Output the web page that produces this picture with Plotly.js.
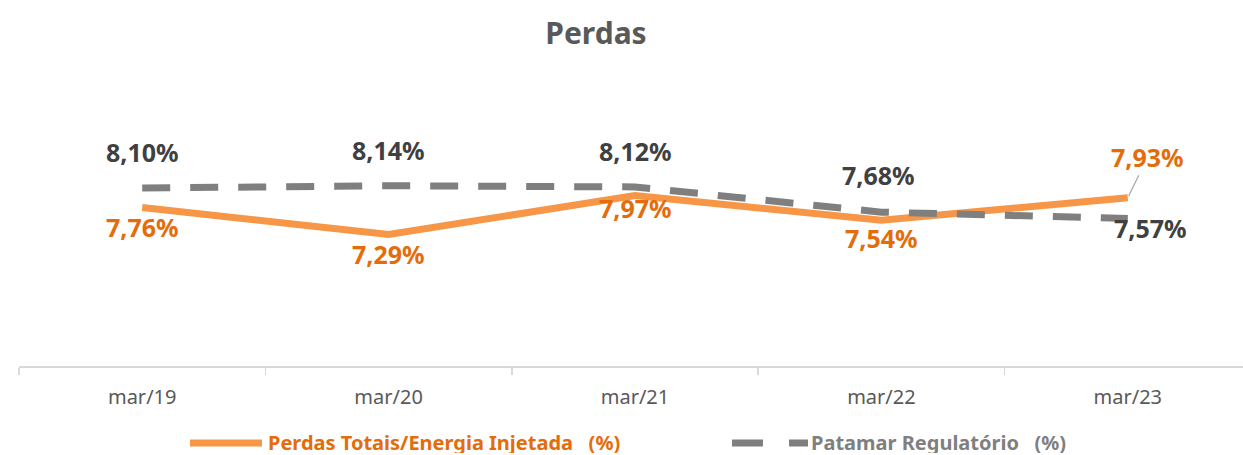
<!DOCTYPE html>
<html><head><meta charset="utf-8">
<script src="https://cdn.plot.ly/plotly-3.0.1.min.js"></script>
<style>html,body{margin:0;padding:0;overflow:hidden;background:#fff}#chart{width:1251px;height:455px}</style>
</head><body><div id="chart"></div>
<script>
const categories = ['mar/19','mar/20','mar/21','mar/22','mar/23'];
const perdasTotais = [7.76, 7.29, 7.97, 7.54, 7.93];
const patamarRegulatorio = [8.10, 8.14, 8.12, 7.68, 7.57];
const seriesNames = ['Perdas Totais/Energia Injetada&nbsp;&nbsp;&nbsp;(%)', 'Patamar Regulatório&nbsp;&nbsp;&nbsp;(%)'];

const fmt = v => v.toFixed(2).replace('.', ',') + '%';
const FONT = 'Noto Sans, Open Sans, sans-serif';
const ORANGE_LINE = '#F79646', ORANGE_TEXT = '#E46C0A', GRAY_LINE = '#7F7F7F', GRAY_TEXT = '#404040';

// presentation-only pixel offsets for labels
const orangeOffsets = [[0,-19],[0,-19],[0,-12],[0,-18],null];
const grayOffsets = [[0,36],[0,36],[0,36],[-3,37],[23,-10]];

// plot area geometry (px) used to place the custom legend in paper coords
const PL = 19, PW = 1232, PT = 79, PH = 287;
const px = v => (v - PL) / PW;
const py = v => (PT + PH - v) / PH;

const annotations = [];
perdasTotais.forEach((v,i) => {
  const base = {x: categories[i], y: v, xref:'x', yref:'y', text: '<b>'+fmt(v)+'</b>',
    font:{family:FONT, size:25, color:ORANGE_TEXT}};
  if (orangeOffsets[i]) {
    annotations.push(Object.assign(base, {showarrow:false, xshift:orangeOffsets[i][0], yshift:orangeOffsets[i][1]}));
  } else {
    annotations.push(Object.assign(base, {showarrow:true, arrowhead:0, arrowwidth:1.2, arrowcolor:'#A6A6A6', ax:20, ay:-41, standoff:2}));
  }
});
patamarRegulatorio.forEach((v,i) => {
  annotations.push({x: categories[i], y: v, xref:'x', yref:'y', text:'<b>'+fmt(v)+'</b>', showarrow:false,
    xshift:grayOffsets[i][0], yshift:grayOffsets[i][1], font:{family:FONT, size:25, color:GRAY_TEXT}});
});
// custom legend labels
annotations.push({xref:'paper', yref:'paper', x:px(267), y:py(442), xanchor:'left', yanchor:'middle', showarrow:false,
  borderpad:0, height:22, valign:'middle',
  text:'<b>'+seriesNames[0]+'</b>', font:{family:FONT, size:20, color:ORANGE_TEXT}});
annotations.push({xref:'paper', yref:'paper', x:px(810), y:py(442), xanchor:'left', yanchor:'middle', showarrow:false,
  borderpad:0, height:22, valign:'middle',
  text:'<b>'+seriesNames[1]+'</b>', font:{family:FONT, size:20, color:GRAY_LINE}});

const shapes = [
  {type:'line', xref:'paper', yref:'paper', x0:px(190), x1:px(262), y0:py(443), y1:py(443), line:{color:ORANGE_LINE, width:7}},
  {type:'line', xref:'paper', yref:'paper', x0:px(732), x1:px(763), y0:py(443), y1:py(443), line:{color:GRAY_LINE, width:7}},
  {type:'line', xref:'paper', yref:'paper', x0:px(789), x1:px(808), y0:py(443), y1:py(443), line:{color:GRAY_LINE, width:7}}
];

const traces = [
  {x: categories, y: perdasTotais, type:'scatter', mode:'lines', name:seriesNames[0],
   line:{color:ORANGE_LINE, width:7}, hoverinfo:'skip'},
  {x: categories, y: patamarRegulatorio, type:'scatter', mode:'lines', name:seriesNames[1],
   line:{color:GRAY_LINE, width:7, dash:'28px,20px'}, hoverinfo:'skip'}
];

const layout = {
  width:1251, height:455,
  margin:{l:PL, r:0, t:PT, b:455-PT-PH},
  paper_bgcolor:'#fff', plot_bgcolor:'#fff',
  title:{text:'<b>Perdas</b>', x:596/1251, xref:'container', xanchor:'center', y:1-33/455, yref:'container', yanchor:'middle',
    font:{family:FONT, size:30, color:'#595959'}},
  xaxis:{type:'category', range:[-0.5,4.5], showgrid:false, zeroline:false, showline:true, linecolor:'#D9D9D9', linewidth:1.5,
    ticks:'outside', tickson:'boundaries', ticklen:7, tickcolor:'#D9D9D9', tickwidth:1.5, ticklabelstandoff:12,
    tickfont:{family:FONT, size:20, color:'#595959'}, fixedrange:true, automargin:false},
  yaxis:{range:[5,10], visible:false, fixedrange:true},
  showlegend:false,
  shapes: shapes,
  annotations: annotations
};
Plotly.newPlot('chart', traces, layout, {staticPlot:true, displayModeBar:false});
</script></body></html>
